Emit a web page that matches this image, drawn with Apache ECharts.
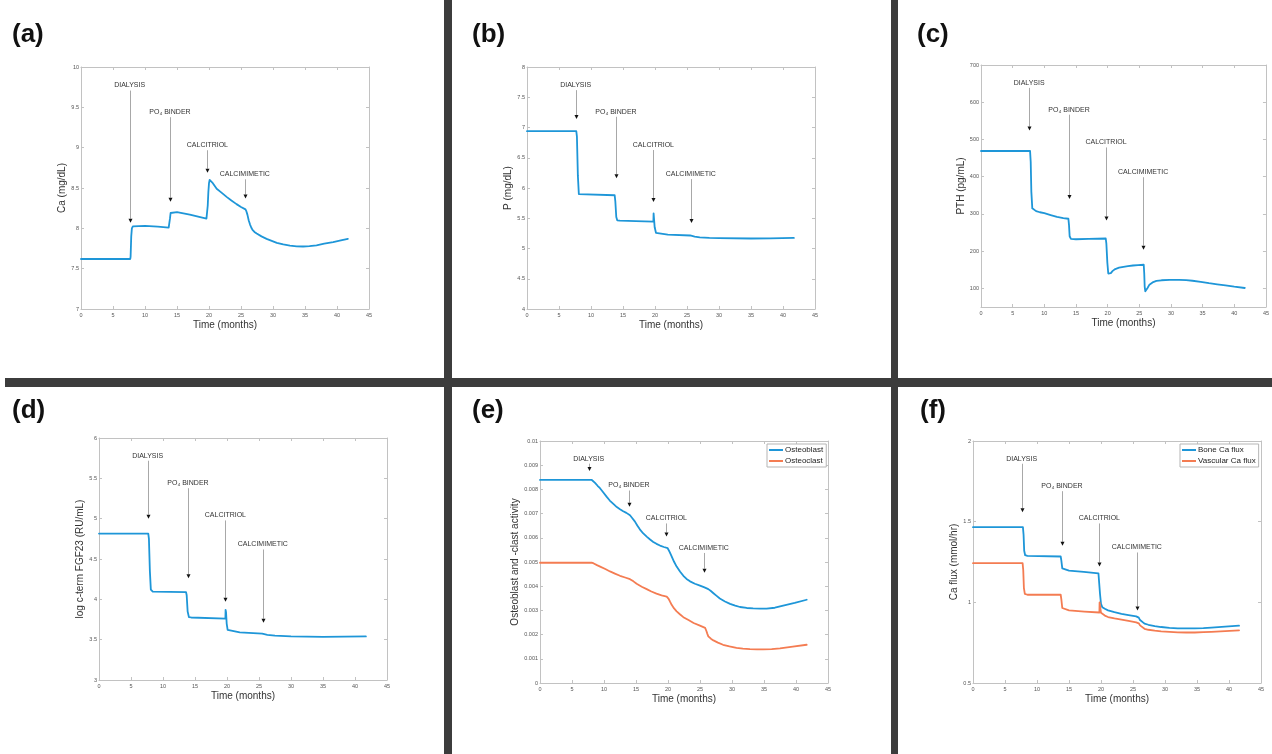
<!DOCTYPE html>
<html><head><meta charset="utf-8">
<script src="https://cdn.jsdelivr.net/npm/echarts@6/dist/echarts.min.js"></script>
<style>html,body{margin:0;padding:0;background:#fff}#c{width:1272px;height:754px}</style>
</head><body><div id="c"></div>
<script>
// ---------- DATA ----------
const panelLabels = ['(a)', '(b)', '(c)', '(d)', '(e)', '(f)'];
const xTitle = 'Time (months)';
const yTitles = ['Ca (mg/dL)', 'P (mg/dL)', 'PTH (pg/mL)', 'log c-term FGF23 (RU/mL)', 'Osteoblast and -clast activity', 'Ca flux (mmol/hr)'];

// treatment annotations (month at which each starts)
const annLabels = ['DIALYSIS', 'PO₄ BINDER', 'CALCITRIOL', 'CALCIMIMETIC'];
const annX = [7.6, 13.9, 19.75, 25.6];
// per panel: label height and arrow tip height (data units)
const annTextY = [
  [9.77, 9.44, 9.03, 8.67],
  [7.70, 7.26, 6.71, 6.23],
  [652, 580, 492, 412],
  [5.78, 5.44, 5.04, 4.68],
  [0.00927, 0.00816, 0.0068, 0.00558],
  [1.89, 1.72, 1.52, 1.34]
];
const annTipY = [
  [8.07, 8.33, 8.69, 8.37],
  [7.14, 6.16, 5.77, 5.42],
  [524, 340, 282, 204],
  [5.0, 4.26, 3.97, 3.71],
  [0.00876, 0.00728, 0.00605, 0.00456],
  [1.558, 1.35, 1.222, 0.95]
];

// (a) Ca
const caData = [[0,7.62],[7.7,7.62],[7.75,7.65],[7.85,7.9],[7.95,8.0],[8.1,8.025],[8.4,8.03],[10,8.03],[12,8.02],[13.7,8.01],[13.8,8.03],[13.9,8.12],[14.0,8.19],[14.15,8.21],[15,8.20],[16,8.185],[17,8.17],[18.3,8.145],[19.6,8.12],[19.7,8.14],[19.8,8.28],[19.9,8.45],[20.0,8.56],[20.1,8.60],[20.2,8.605],[20.4,8.58],[20.6,8.56],[21.2,8.49],[22,8.44],[22.75,8.39],[23.5,8.345],[24.3,8.30],[25,8.265],[25.7,8.235],[25.85,8.21],[26.0,8.17],[26.2,8.10],[26.4,8.05],[26.6,8.01],[26.8,7.98],[27.1,7.955],[27.45,7.935],[28.2,7.90],[29,7.87],[29.8,7.845],[30.6,7.82],[31.6,7.80],[32.65,7.785],[33.7,7.777],[34.7,7.775],[35.7,7.78],[36.8,7.79],[38,7.81],[39.4,7.83],[40.6,7.85],[41.7,7.87]];
// (b) P
const pData = [[0,6.94],[7.7,6.94],[7.8,6.85],[7.95,6.2],[8.1,5.9],[8.4,5.88],[13.7,5.88],[13.8,5.78],[13.95,5.52],[14.1,5.465],[14.5,5.46],[17,5.452],[19.75,5.445],[19.78,5.58],[19.85,5.55],[19.95,5.35],[20.15,5.26],[20.4,5.24],[22,5.23],[25.5,5.215],[26.2,5.195],[27,5.185],[28.5,5.175],[30,5.17],[35,5.165],[38,5.167],[41.7,5.175]];
// (c) PTH
const pthData = [[0,469],[7.75,469],[7.85,440],[7.95,360],[8.1,315],[8.3,310],[8.7,307.5],[9.3,304.5],[10,302],[11,297],[12,292],[13,289],[13.8,287],[13.9,270],[14.0,240],[14.2,233],[15,232],[17,233],[19.7,234],[19.8,220],[19.95,170],[20.1,140],[20.25,137],[20.5,141],[20.8,147],[21.2,152],[21.8,155.5],[22.5,158],[23.2,160],[24,161.5],[24.8,162.7],[25.7,163.5],[25.78,140],[25.85,105],[25.95,92],[26.1,95],[26.3,101],[26.6,110],[26.9,114.5],[27.2,117],[27.7,120],[28.5,121.8],[29.8,123],[31.3,123],[32.4,122],[33.4,120.5],[34.7,117.5],[36,114],[37.3,111],[38.6,108],[40,104.5],[41.66,101]];
// (d) FGF23
const fgfData = [[0,4.815],[7.7,4.815],[7.8,4.75],[7.95,4.35],[8.1,4.12],[8.4,4.095],[13.6,4.09],[13.7,4.05],[13.85,3.85],[14.05,3.78],[14.4,3.775],[19.75,3.76],[19.78,3.87],[19.85,3.84],[19.95,3.70],[20.1,3.62],[20.4,3.6],[22,3.59],[25.5,3.575],[26.3,3.56],[27.5,3.55],[30,3.54],[35,3.535],[41.7,3.54]];
// (e) bone cell activity
const osteoblastData = [[0,0.00839],[8.1,0.00839],[8.3,0.00836],[8.6,0.00827],[9.0,0.00815],[9.375,0.00805],[9.9,0.00787],[10.4,0.0077],[10.9,0.00754],[11.46,0.0074],[12.0,0.00727],[12.5,0.00718],[13.0,0.0071],[13.5,0.00703],[13.8,0.00698],[14.06,0.00693],[14.4,0.00682],[14.84,0.00667],[15.2,0.00651],[15.6,0.00635],[16.1,0.00619],[16.67,0.00605],[17.2,0.00593],[17.7,0.00583],[18.2,0.00575],[18.75,0.00568],[19.35,0.00562],[19.95,0.00557],[20.25,0.00542],[20.57,0.00523],[20.95,0.00501],[21.35,0.00481],[21.9,0.0046],[22.4,0.00443],[22.9,0.0043],[23.44,0.0042],[24.2,0.0041],[25.0,0.00402],[25.7,0.00395],[26.3,0.00388],[26.7,0.0038],[27.1,0.00371],[27.6,0.0036],[28.1,0.00349],[28.9,0.00337],[29.7,0.00327],[30.5,0.0032],[31.25,0.00314],[32.3,0.0031],[33.3,0.00308],[34.4,0.00307],[35.4,0.00307],[36.7,0.00311],[38,0.0032],[39.8,0.00331],[41.67,0.00344]];
const osteoclastData = [[0,0.00497],[8.07,0.00497],[8.4,0.00494],[8.9,0.00487],[9.4,0.00481],[10.2,0.00471],[10.94,0.00461],[11.7,0.00452],[12.5,0.00443],[13.3,0.00436],[14.06,0.00429],[14.6,0.0042],[15.1,0.0041],[15.9,0.00398],[16.67,0.00388],[17.4,0.00378],[18.2,0.00369],[19.0,0.00362],[19.8,0.00357],[20.1,0.00348],[20.3,0.00337],[20.57,0.00323],[20.95,0.00308],[21.35,0.00296],[21.9,0.00283],[22.4,0.00272],[23.2,0.0026],[24.0,0.00248],[24.9,0.00238],[25.8,0.00228],[26.0,0.00215],[26.15,0.00203],[26.3,0.00193],[26.7,0.00183],[27.1,0.00176],[27.8,0.00167],[28.6,0.00158],[29.6,0.00151],[30.7,0.00145],[31.7,0.00142],[32.8,0.0014],[33.9,0.00139],[34.9,0.00139],[36.2,0.0014],[37.5,0.00143],[39.5,0.0015],[41.67,0.00158]];
// (f) Ca fluxes
const boneFluxData = [[0,1.466],[7.8,1.466],[7.9,1.42],[8.0,1.32],[8.15,1.292],[8.5,1.288],[13.7,1.284],[13.8,1.26],[13.95,1.21],[14.15,1.2],[15,1.197],[17.3,1.189],[19.6,1.18],[19.75,1.17],[19.85,1.05],[20.0,0.99],[20.2,0.97],[20.6,0.96],[21.1,0.95],[22.1,0.939],[23.2,0.929],[24.3,0.921],[25.5,0.913],[25.9,0.905],[26.1,0.89],[26.3,0.878],[26.8,0.868],[27.4,0.861],[28.4,0.853],[29.4,0.847],[30.7,0.842],[32,0.839],[33.3,0.838],[34.65,0.838],[36,0.84],[37.25,0.843],[39.4,0.849],[41.57,0.855]];
const vascFluxData = [[0,1.243],[7.75,1.243],[7.85,1.2],[7.95,1.09],[8.1,1.052],[8.5,1.047],[13.7,1.047],[13.8,1.02],[13.95,0.965],[14.15,0.954],[15,0.95],[17.4,0.943],[19.75,0.937],[19.78,0.999],[19.85,0.98],[20.0,0.935],[20.2,0.928],[20.6,0.918],[21.1,0.909],[22.1,0.9],[23.2,0.893],[24.3,0.885],[25.5,0.876],[25.9,0.87],[26.1,0.857],[26.3,0.845],[26.8,0.836],[27.4,0.83],[28.4,0.824],[29.4,0.82],[30.7,0.817],[32,0.814],[33.3,0.813],[34.65,0.813],[36,0.815],[37.25,0.817],[39.4,0.821],[41.57,0.826]];

// y-axis ranges
const yMin = [7, 4, 50, 3, 0, 0.5];
const yMax = [10, 8, 700, 6, 0.01, 2];
const yStep = [0.5, 0.5, 100, 0.5, 0.001, 0.5];
const pthTicks = [100, 200, 300, 400, 500, 600, 700];
const xMin = 0, xMax = 45, xStep = 5;

// ---------- LAYOUT / STYLE ----------
const FONT = 'Liberation Sans, Arial, Helvetica, sans-serif';
const BLUE = '#1e96d8', ORANGE = '#f47c52';
const grids = [
  {left: 81, top: 67, width: 288, height: 242},
  {left: 527, top: 67, width: 288, height: 242},
  {left: 981, top: 65, width: 288, height: 242},
  {left: 99, top: 438, width: 288, height: 242},
  {left: 540, top: 441, width: 288, height: 242},
  {left: 973, top: 441, width: 288, height: 242}
];
const yNameGap = [13, 14, 14, 13, 19, 13];
const labelPos = [[12, 35], [472, 35], [917, 35], [12, 411], [472, 411], [920, 411]];

const axisCol = '#c2c2c2';
function fmt(v) { return String(parseFloat(Number(v).toFixed(6))); }

const xAxes = [], yAxes = [], series = [];
grids.forEach((g, i) => {
  const common = {
    axisLine: {show: true, onZero: false, lineStyle: {color: axisCol, width: 1}},
    axisTick: {show: true, inside: true, length: 3, lineStyle: {color: axisCol}},
    splitLine: {show: false}
  };
  xAxes.push(Object.assign({}, common, {
    type: 'value', gridIndex: i, position: 'bottom', min: xMin, max: xMax, interval: xStep,
    name: xTitle, nameLocation: 'middle', nameGap: 11,
    nameTextStyle: {fontSize: 10, color: '#333', fontFamily: FONT},
    axisLabel: {fontSize: 5.5, color: '#555', margin: 3, fontFamily: FONT, showMaxLabel: true, showMinLabel: true}
  }));
  xAxes.push(Object.assign({}, common, {
    type: 'value', gridIndex: i, position: 'top', min: xMin, max: xMax, interval: xStep,
    axisLabel: {show: false}
  }));
  const yc = {type: 'value', gridIndex: i, min: yMin[i], max: yMax[i]};
  if (i === 2) {
    yAxes.push(Object.assign({}, common, yc, {
      position: 'left', name: yTitles[i], nameLocation: 'middle', nameGap: yNameGap[i],
      nameTextStyle: {fontSize: 10, color: '#333', fontFamily: FONT},
      axisTick: {show: true, inside: true, length: 3, lineStyle: {color: axisCol}, customValues: pthTicks},
      axisLabel: {fontSize: 5.5, color: '#555', margin: 2, fontFamily: FONT, customValues: pthTicks}
    }));
    yAxes.push(Object.assign({}, common, yc, {
      position: 'right',
      axisTick: {show: true, inside: true, length: 3, lineStyle: {color: axisCol}, customValues: pthTicks},
      axisLabel: {show: false}
    }));
  } else {
    yAxes.push(Object.assign({}, common, yc, {
      position: 'left', interval: yStep[i], name: yTitles[i], nameLocation: 'middle', nameGap: yNameGap[i],
      nameTextStyle: {fontSize: 10, color: '#333', fontFamily: FONT},
      axisLabel: {fontSize: 5.5, color: '#555', margin: 2, fontFamily: FONT, formatter: fmt, showMaxLabel: true, showMinLabel: true}
    }));
    yAxes.push(Object.assign({}, common, yc, {
      position: 'right', interval: yStep[i], axisLabel: {show: false}
    }));
  }
  // annotations
  series.push({
    type: 'custom', xAxisIndex: 2 * i, yAxisIndex: 2 * i, silent: true, clip: false, z: 5,
    data: annX.map((x, k) => [x, annTextY[i][k], annTipY[i][k], k]),
    renderItem: function (params, api) {
      const x = api.value(0), ty = api.value(1), tip = api.value(2), k = api.value(3);
      const pt = api.coord([x, ty]), pp = api.coord([x, tip]);
      const px = Math.round(pp[0]) + 0.5;
      return {type: 'group', children: [
        {type: 'text', style: {text: annLabels[k], x: pt[0], y: pt[1], align: 'center', verticalAlign: 'middle',
          fontSize: 7, fill: '#333', fontFamily: FONT}},
        {type: 'line', shape: {x1: px, y1: pt[1] + 5, x2: px, y2: pp[1] - 4}, style: {stroke: '#a8a8a8', lineWidth: 1}},
        {type: 'polygon', shape: {points: [[px - 2, pp[1] - 4], [px + 2, pp[1] - 4], [px, pp[1]]]}, style: {fill: '#111'}}
      ]};
    }
  });
});

function lineSeries(name, data, gi, color) {
  return {type: 'line', name: name, xAxisIndex: 2 * gi, yAxisIndex: 2 * gi, data: data,
    showSymbol: false, symbol: 'none', smooth: false, z: 3,
    lineStyle: {color: color, width: 1.8, join: 'round', cap: 'round'}, itemStyle: {color: color}};
}
series.push(lineSeries('Ca', caData, 0, BLUE));
series.push(lineSeries('P', pData, 1, BLUE));
series.push(lineSeries('PTH', pthData, 2, BLUE));
series.push(lineSeries('FGF23', fgfData, 3, BLUE));
series.push(lineSeries('Osteoblast', osteoblastData, 4, BLUE));
series.push(lineSeries('Osteoclast', osteoclastData, 4, ORANGE));
series.push(lineSeries('Bone Ca flux', boneFluxData, 5, BLUE));
series.push(lineSeries('Vascular Ca flux', vascFluxData, 5, ORANGE));

const legendCommon = {
  orient: 'vertical', icon: 'rect', itemWidth: 14, itemHeight: 2, itemGap: 3,
  borderColor: '#b5b5b5', borderWidth: 1, padding: [2, 3, 2, 2], backgroundColor: '#fff',
  textStyle: {fontSize: 8, color: '#222', fontFamily: FONT, padding: [0, 0, 0, -3]},
  selectedMode: false
};
const legends = [
  Object.assign({}, legendCommon, {data: ['Osteoblast', 'Osteoclast'], left: 767, top: 444}),
  Object.assign({}, legendCommon, {data: ['Bone Ca flux', 'Vascular Ca flux'], left: 1180, top: 444})
];

const graphics = [
  {type: 'rect', shape: {x: 444, y: 0, width: 8, height: 754}, style: {fill: '#3c3c3c'}, z: 0},
  {type: 'rect', shape: {x: 891, y: 0, width: 7, height: 754}, style: {fill: '#3c3c3c'}, z: 0},
  {type: 'rect', shape: {x: 5, y: 378, width: 1267, height: 9}, style: {fill: '#3c3c3c'}, z: 0}
];
panelLabels.forEach((t, i) => {
  graphics.push({type: 'text', x: labelPos[i][0], y: labelPos[i][1],
    style: {text: t, fontSize: 26, fontWeight: 'bold', fontFamily: FONT, fill: '#111', verticalAlign: 'middle'}});
});

const chart = echarts.init(document.getElementById('c'), null, {renderer: 'canvas'});
chart.setOption({
  backgroundColor: '#fff',
  animation: false,
  grid: grids,
  xAxis: xAxes,
  yAxis: yAxes,
  legend: legends,
  graphic: graphics,
  series: series
});
</script></body></html>
